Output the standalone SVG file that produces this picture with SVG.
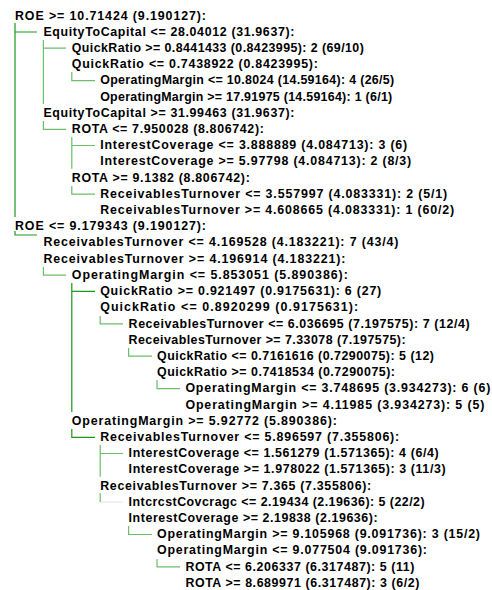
<svg xmlns="http://www.w3.org/2000/svg" width="492" height="590" viewBox="0 0 492 590">
  <style>
    .t { font-family: "Liberation Sans", Arial, sans-serif; font-weight: bold; font-size: 12.4px; fill: #000; }
    .d { fill: none; stroke: #1a9a1a; stroke-width: 1.2; }
    .l { fill: none; stroke: #6cbd6c; stroke-width: 1.2; }
    .f { fill: none; stroke: #e2e2e2; stroke-width: 1; }
  </style>
  <rect width="492" height="590" fill="#fff"/>

  <!-- tree connectors -->
  <g id="connectors">
    <path class="d" d="M15 23 V217 M15 32 H37"/>
    <path class="l" d="M43.4 40 V104 M43.4 48.2 H66"/>
    <path class="l" d="M71.8 72 V80.6 H95"/>
    <path class="l" d="M43.4 121 V129.3 H66"/>
    <path class="l" d="M71.8 137 V168.7 M71.8 145.5 H95"/>
    <path class="l" d="M71.8 186 V194.1 H95"/>
    <path class="d" d="M15 231 V235 H37"/>
    <path class="l" d="M43.4 267 V275.2 H66"/>
    <path class="d" d="M71.8 283 V412 M71.8 291.4 H95"/>
    <path class="l" d="M100.2 316 V323.8 H123"/>
    <path class="l" d="M128.6 348 V356.2 H152"/>
    <path class="l" d="M157 380 V388.6 H180"/>
    <path class="d" d="M71.8 429 V437.3 H95"/>
    <path class="l" d="M100.2 445 V476.7 M100.2 453.5 H123"/>
    <path class="f" d="M100.2 502 H123"/>
    <path class="l" d="M100.2 493 V502"/>
    <path class="l" d="M128.6 526 V534.5 H152"/>
    <path class="l" d="M157 559 V566.9 H180"/>
  </g>

  <!-- ROE >= 10.71424 branch -->
  <g id="n1"><text class="t" x="15" y="19.5" textLength="191" lengthAdjust="spacing">ROE &gt;= 10.71424 (9.190127):</text></g>
  <g id="n2"><text class="t" x="43.4" y="35.7" textLength="251" lengthAdjust="spacing">EquityToCapital &lt;= 28.04012 (31.9637):</text></g>
  <g id="n3"><text class="t" x="71.8" y="51.9" textLength="292" lengthAdjust="spacing">QuickRatio &gt;= 0.8441433 (0.8423995): 2 (69/10)</text></g>
  <g id="n4"><text class="t" x="71.8" y="68.1" textLength="246" lengthAdjust="spacing">QuickRatio &lt;= 0.7438922 (0.8423995):</text></g>
  <g id="n5"><text class="t" x="100.2" y="84.3" textLength="294" lengthAdjust="spacing">OperatingMargin &lt;= 10.8024 (14.59164): 4 (26/5)</text></g>
  <g id="n6"><text class="t" x="100.2" y="100.6" textLength="292" lengthAdjust="spacing">OperatingMargin &gt;= 17.91975 (14.59164): 1 (6/1)</text></g>
  <g id="n7"><text class="t" x="43.4" y="116.8" textLength="251" lengthAdjust="spacing">EquityToCapital &gt;= 31.99463 (31.9637):</text></g>
  <g id="n8"><text class="t" x="71.8" y="133" textLength="192" lengthAdjust="spacing">ROTA &lt;= 7.950028 (8.806742):</text></g>
  <g id="n9"><text class="t" x="100.2" y="149.2" textLength="307" lengthAdjust="spacing">InterestCoverage &lt;= 3.888889 (4.084713): 3 (6)</text></g>
  <g id="n10"><text class="t" x="100.2" y="165.4" textLength="311" lengthAdjust="spacing">InterestCoverage &gt;= 5.97798 (4.084713): 2 (8/3)</text></g>
  <g id="n11"><text class="t" x="71.8" y="181.6" textLength="178" lengthAdjust="spacing">ROTA &gt;= 9.1382 (8.806742):</text></g>
  <g id="n12"><text class="t" x="100.2" y="197.8" textLength="347" lengthAdjust="spacing">ReceivablesTurnover &lt;= 3.557997 (4.083331): 2 (5/1)</text></g>
  <g id="n13"><text class="t" x="100.2" y="214" textLength="354" lengthAdjust="spacing">ReceivablesTurnover &gt;= 4.608665 (4.083331): 1 (60/2)</text></g>

  <!-- ROE <= 9.179343 branch -->
  <g id="n14"><text class="t" x="15" y="230.2" textLength="191" lengthAdjust="spacing">ROE &lt;= 9.179343 (9.190127):</text></g>
  <g id="n15"><text class="t" x="43.4" y="246.4" textLength="355" lengthAdjust="spacing">ReceivablesTurnover &lt;= 4.169528 (4.183221): 7 (43/4)</text></g>
  <g id="n16"><text class="t" x="43.4" y="262.7" textLength="302" lengthAdjust="spacing">ReceivablesTurnover &gt;= 4.196914 (4.183221):</text></g>
  <g id="n17"><text class="t" x="71.8" y="278.9" textLength="276" lengthAdjust="spacing">OperatingMargin &lt;= 5.853051 (5.890386):</text></g>
  <g id="n18"><text class="t" x="100.2" y="295.1" textLength="281" lengthAdjust="spacing">QuickRatio &gt;= 0.921497 (0.9175631): 6 (27)</text></g>
  <g id="n19"><text class="t" x="100.2" y="311.3" textLength="258" lengthAdjust="spacing">QuickRatio &lt;= 0.8920299 (0.9175631):</text></g>
  <g id="n20"><text class="t" x="128.6" y="327.5" textLength="341" lengthAdjust="spacing">ReceivablesTurnover &lt;= 6.036695 (7.197575): 7 (12/4)</text></g>
  <g id="n21"><text class="t" x="128.6" y="343.7" textLength="277" lengthAdjust="spacing">ReceivablesTurnover &gt;= 7.33078 (7.197575):</text></g>
  <g id="n22"><text class="t" x="157" y="359.9" textLength="277" lengthAdjust="spacing">QuickRatio &lt;= 0.7161616 (0.7290075): 5 (12)</text></g>
  <g id="n23"><text class="t" x="157" y="376.1" textLength="238" lengthAdjust="spacing">QuickRatio &gt;= 0.7418534 (0.7290075):</text></g>
  <g id="n24"><text class="t" x="185.4" y="392.3" textLength="305" lengthAdjust="spacing">OperatingMargin &lt;= 3.748695 (3.934273): 6 (6)</text></g>
  <g id="n25"><text class="t" x="185.4" y="408.5" textLength="299" lengthAdjust="spacing">OperatingMargin &gt;= 4.11985 (3.934273): 5 (5)</text></g>
  <g id="n26"><text class="t" x="71.8" y="424.8" textLength="265" lengthAdjust="spacing">OperatingMargin &gt;= 5.92772 (5.890386):</text></g>
  <g id="n27"><text class="t" x="100.2" y="441" textLength="299" lengthAdjust="spacing">ReceivablesTurnover &lt;= 5.896597 (7.355806):</text></g>
  <g id="n28"><text class="t" x="128.6" y="457.2" textLength="310" lengthAdjust="spacing">InterestCoverage &lt;= 1.561279 (1.571365): 4 (6/4)</text></g>
  <g id="n29"><text class="t" x="128.6" y="473.4" textLength="317" lengthAdjust="spacing">InterestCoverage &gt;= 1.978022 (1.571365): 3 (11/3)</text></g>
  <g id="n30"><text class="t" x="100.2" y="489.6" textLength="271" lengthAdjust="spacing">ReceivablesTurnover &gt;= 7.365 (7.355806):</text></g>
  <g id="n31"><text class="t" x="128.6" y="505.8" textLength="296" lengthAdjust="spacing">IntcrcstCovcragc &lt;= 2.19434 (2.19636): 5 (22/2)</text></g>
  <g id="n32"><text class="t" x="128.6" y="522" textLength="249" lengthAdjust="spacing">InterestCoverage &gt;= 2.19838 (2.19636):</text></g>
  <g id="n33"><text class="t" x="157" y="538.2" textLength="323" lengthAdjust="spacing">OperatingMargin &gt;= 9.105968 (9.091736): 3 (15/2)</text></g>
  <g id="n34"><text class="t" x="157" y="554.4" textLength="270" lengthAdjust="spacing">OperatingMargin &lt;= 9.077504 (9.091736):</text></g>
  <g id="n35"><text class="t" x="185.4" y="570.6" textLength="229" lengthAdjust="spacing">ROTA &lt;= 6.206337 (6.317487): 5 (11)</text></g>
  <g id="n36"><text class="t" x="185.4" y="586.8" textLength="234" lengthAdjust="spacing">ROTA &gt;= 8.689971 (6.317487): 3 (6/2)</text></g>
</svg>
